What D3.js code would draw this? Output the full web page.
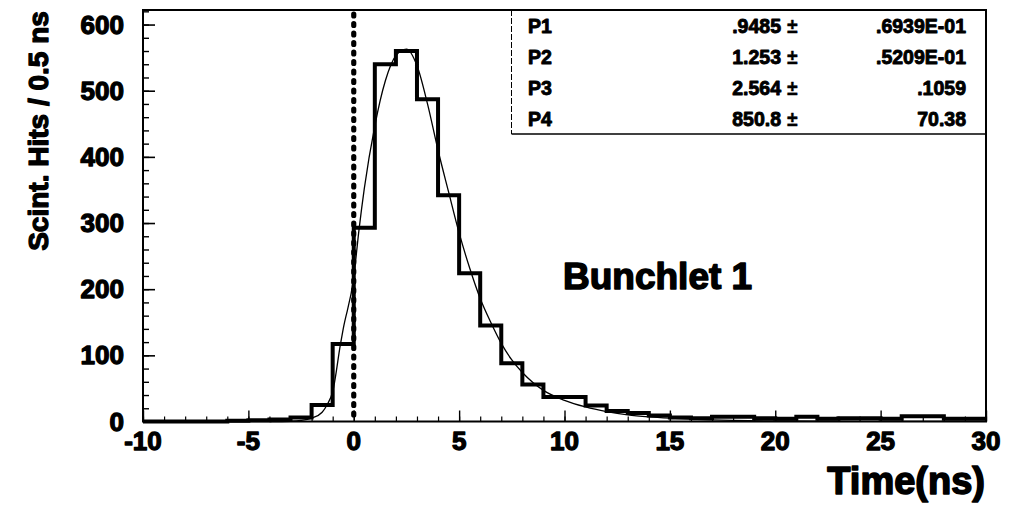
<!DOCTYPE html>
<html>
<head>
<meta charset="utf-8">
<script src="https://cdn.jsdelivr.net/npm/d3@7"></script>
<style>
  html, body { margin: 0; padding: 0; background: #fff; }
  svg text { font-family: "Liberation Sans", Arial, Helvetica, sans-serif; font-weight: bold; fill: #000;
             stroke: #000; stroke-linejoin: round; }
</style>
</head>
<body>
<svg id="chart" width="1010" height="514"></svg>
<script>
// Scintillator hit-time histogram, 1 ns bins from -10 ns to 30 ns
const binFirstEdge = -10;
const binWidth = 1;
const hits = [
  0, 0, 0, 0, 1, 2, 3, 6, 25, 117,
  293, 540, 560, 487, 342, 224, 145, 88, 56, 37,
  37, 24, 16, 13, 9, 6, 5, 7, 7, 5,
  4, 7, 4, 5, 5, 4, 8, 8, 4, 4
];

// Fitted curve, sampled (time in ns, hits)
const fitTime = [-4, -3, -2.5, -2, -1.5, -1.27, -1, -0.63, -0.5, 0, 0.25, 0.5, 1, 1.5, 2, 2.5, 3, 3.5, 4, 4.5,
                 5, 5.5, 6, 6.5, 7, 7.5, 8, 8.5, 9, 10, 11, 12, 13, 14, 15, 16, 17, 18, 20, 22, 25, 30];
const fitHits = [0, 0.4, 1.5, 5, 14, 25, 45, 117, 140, 218, 290, 352, 447, 515, 553, 563, 538, 480, 410, 347,
                 285, 232, 186, 150, 118, 93, 74, 59, 47, 32, 22, 15, 10, 7, 5, 3.5, 2.5, 1.7, 0.8, 0.4, 0.2, 0.1];

// Axis ticks
const xTickLabels = [-10, -5, 0, 5, 10, 15, 20, 25, 30];
const yTickLabels = [0, 100, 200, 300, 400, 500, 600];

// Fit parameters
const parNames  = ["P1", "P2", "P3", "P4"];
const parValues = [".9485", "1.253", "2.564", "850.8"];
const parErrors = [".6939E-01", ".5209E-01", ".1059", "70.38"];

const svg = d3.select("#chart");
const plotLeft = 143, plotRight = 986, plotTop = 10, plotBottom = 421.5;

const x = d3.scaleLinear().domain([-10, 30]).range([plotLeft, plotRight]);
const y = d3.scaleLinear().domain([0, 622]).range([plotBottom, plotTop]);

// minor / major ticks (pointing into the plot)
const xMinor = d3.range(-10, 30.001, 1);
const yMinor = d3.range(0, 622, 20);

svg.append("g").attr("transform", `translate(0,${plotBottom})`)
  .call(d3.axisBottom(x).tickValues(xMinor).tickSize(-5).tickFormat(""))
  .call(g => g.select(".domain").remove())
  .selectAll("line").attr("stroke", "#000").attr("stroke-width", 1.2);
svg.append("g").attr("transform", `translate(0,${plotBottom})`)
  .call(d3.axisBottom(x).tickValues(xTickLabels).tickSize(-11).tickFormat(""))
  .call(g => g.select(".domain").remove())
  .selectAll("line").attr("stroke", "#000").attr("stroke-width", 1.4);

svg.append("g").attr("transform", `translate(${plotLeft},0)`)
  .call(d3.axisLeft(y).tickValues(yMinor).tickSize(-6).tickFormat(""))
  .call(g => g.select(".domain").remove())
  .selectAll("line").attr("stroke", "#000").attr("stroke-width", 1.4);
svg.append("g").attr("transform", `translate(${plotLeft},0)`)
  .call(d3.axisLeft(y).tickValues(yTickLabels).tickSize(-12).tickFormat(""))
  .call(g => g.select(".domain").remove())
  .selectAll("line").attr("stroke", "#000").attr("stroke-width", 1.6);

// frame
svg.append("rect")
  .attr("x", plotLeft).attr("y", plotTop)
  .attr("width", plotRight - plotLeft).attr("height", plotBottom - plotTop)
  .attr("fill", "none").attr("stroke", "#000").attr("stroke-width", 2);

// tick labels
svg.append("g").selectAll("text").data(xTickLabels).join("text")
  .attr("x", d => x(d)).attr("y", 450)
  .attr("text-anchor", "middle").attr("font-size", 26).attr("stroke-width", 1.3)
  .text(d => d);
svg.append("g").selectAll("text").data(yTickLabels).join("text")
  .attr("x", 124).attr("y", d => y(d) + 9)
  .attr("text-anchor", "end").attr("font-size", 26).attr("stroke-width", 1.3)
  .text(d => d);

// axis titles
svg.append("text")
  .attr("x", 985).attr("y", 494)
  .attr("text-anchor", "end").attr("font-size", 38).attr("stroke-width", 1.6)
  .text("Time(ns)");
svg.append("text")
  .attr("transform", "translate(48,131) rotate(-90)")
  .attr("text-anchor", "middle").attr("font-size", 28).attr("stroke-width", 1.3)
  .text("Scint. Hits / 0.5 ns");

// t = 0 marker
svg.append("line")
  .attr("x1", x(0)).attr("x2", x(0))
  .attr("y1", y(622) + 4).attr("y2", y(0))
  .attr("stroke", "#000").attr("stroke-width", 5.2)
  .attr("stroke-linecap", "round").attr("stroke-dasharray", "2 7.5");

// histogram outline
const histPts = hits.map((h, i) => [binFirstEdge + i * binWidth, h]);
histPts.push([binFirstEdge + hits.length * binWidth, hits[hits.length - 1]]);
const stepLine = d3.line().x(d => x(d[0])).y(d => y(d[1])).curve(d3.curveStepAfter);
svg.append("path")
  .attr("d", stepLine(histPts))
  .attr("fill", "none").attr("stroke", "#000").attr("stroke-width", 4)
  .attr("stroke-linejoin", "miter");

// fit curve
const fitLine = d3.line().x((d, i) => x(fitTime[i])).y(d => y(d)).curve(d3.curveMonotoneX);
svg.append("path")
  .attr("d", fitLine(fitHits))
  .attr("fill", "none").attr("stroke", "#000").attr("stroke-width", 1.3);

// fit parameter box
const boxLeft = 511.5, boxBottom = 134;
svg.append("rect")
  .attr("x", boxLeft).attr("y", plotTop + 1).attr("width", plotRight - boxLeft - 1).attr("height", boxBottom - plotTop - 1)
  .attr("fill", "#fff");
svg.append("line")
  .attr("x1", boxLeft).attr("x2", boxLeft).attr("y1", plotTop).attr("y2", boxBottom)
  .attr("stroke", "#000").attr("stroke-width", 1).attr("stroke-dasharray", "6 2");
svg.append("line")
  .attr("x1", boxLeft).attr("x2", plotRight).attr("y1", boxBottom).attr("y2", boxBottom)
  .attr("stroke", "#000").attr("stroke-width", 1.5);

const rows = svg.append("g").selectAll("g").data(parNames).join("g")
  .attr("transform", (d, i) => `translate(0,${33 + i * 31})`)
  .attr("font-size", 19.5).attr("stroke-width", 0.9);
rows.append("text").attr("x", 528).text(d => d);
rows.append("text").attr("x", 781).attr("text-anchor", "end").text((d, i) => parValues[i]);
rows.append("text").attr("x", 787).text("\u00b1").attr("stroke-width", 0.3);
rows.append("text").attr("x", 966).attr("text-anchor", "end").text((d, i) => parErrors[i]);

// annotation
svg.append("text")
  .attr("x", 563).attr("y", 289)
  .attr("font-size", 37).attr("stroke-width", 1.5)
  .text("Bunchlet 1");
</script>
</body>
</html>
